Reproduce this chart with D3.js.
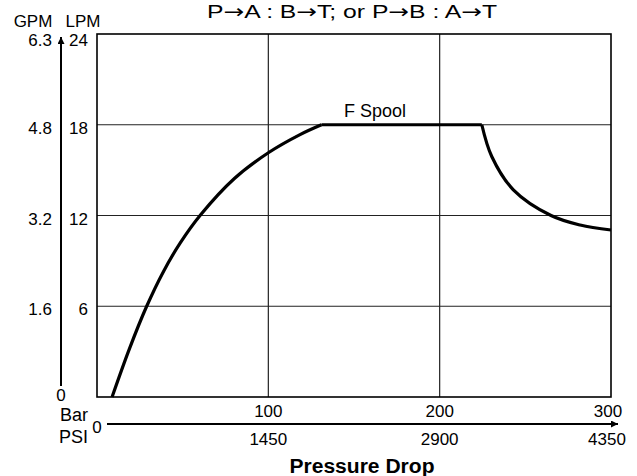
<!DOCTYPE html>
<html>
<head>
<meta charset="utf-8">
<script src="https://cdn.jsdelivr.net/npm/d3@7"></script>
<style>
  body { margin: 0; background: #fff; }
  text { font-family: "Liberation Sans", Arial, sans-serif; fill: #000; }
</style>
</head>
<body>
<div id="chart"></div>
<script>
// flow curve, rising part (bar, LPM)
const riseBar = [8.8, 18.8, 28.8, 38.9, 48.6, 60.5, 80.2, 100, 118.5, 131];
const riseLpm = [0, 3.15, 5.95, 8.32, 10.19, 12.05, 14.45, 16.15, 17.35, 18];
// falling part after the flat top
const fallBar = [224.6, 230.4, 243, 265, 282, 300];
const fallLpm = [18, 15.9, 13.7, 12, 11.37, 11.04];

const barTicks = [100, 200, 300];
const psiTicks = [0, 1450, 2900, 4350];
const psiAt = [0, 100, 200, 300];
const lpmTicks = [24, 18, 12, 6];
const gpmTicks = ['6.3', '4.8', '3.2', '1.6', '0'];
const gpmAt = [24, 18, 12, 6, 0];

const W = 637, H = 476;
const svg = d3.select('#chart').append('svg').attr('width', W).attr('height', H);

const x = d3.scaleLinear().domain([0, 300]).range([97, 611]);
const y = d3.scaleLinear().domain([0, 24]).range([397, 34]);

//arrow head
svg.append('defs').append('marker')
   .attr('id', 'arr').attr('viewBox', '0 0 10 10')
   .attr('refX', 10).attr('refY', 5)
   .attr('markerWidth', 8).attr('markerHeight', 7)
   .attr('markerUnits', 'userSpaceOnUse')
   .attr('orient', 'auto')
   .append('path').attr('d', 'M0,0L10,5L0,10Z').attr('fill', '#000');

//grid lines
svg.append('g').selectAll('line')
   .data([100, 200]).enter().append('line')
   .attr('x1', d => x(d)).attr('x2', d => x(d))
   .attr('y1', y(0)).attr('y2', y(24))
   .attr('stroke', '#222').attr('stroke-width', 1.2);

svg.append('g').selectAll('line')
   .data([6, 12, 18]).enter().append('line')
   .attr('x1', x(0)).attr('x2', x(300))
   .attr('y1', d => y(d)).attr('y2', d => y(d))
   .attr('stroke', '#222').attr('stroke-width', 1.2);

//plot frame
svg.append('rect')
   .attr('x', x(0)).attr('y', y(24))
   .attr('width', x(300) - x(0)).attr('height', y(0) - y(24))
   .attr('fill', 'none').attr('stroke', '#000').attr('stroke-width', 1.6);

//curve
const smooth = d3.line().x(d => x(d[0])).y(d => y(d[1])).curve(d3.curveCatmullRom.alpha(0.5));
const rise = riseBar.map((b, i) => [b, riseLpm[i]]);
const fall = fallBar.map((b, i) => [b, fallLpm[i]]);
const flat = [rise[rise.length - 1], fall[0]];

const curveG = svg.append('g').attr('fill', 'none').attr('stroke', '#000')
   .attr('stroke-width', 3.2).attr('stroke-linejoin', 'round');
curveG.append('path').attr('d', smooth(rise));
curveG.append('path').attr('d', d3.line().x(d => x(d[0])).y(d => y(d[1]))(flat));
curveG.append('path').attr('d', smooth(fall));

svg.append('text').attr('x', 375).attr('y', 117)
   .attr('text-anchor', 'middle').attr('font-size', 18).text('F Spool');

//left vertical arrow
svg.append('line')
   .attr('x1', 61).attr('x2', 61).attr('y1', 386).attr('y2', 37)
   .attr('stroke', '#000').attr('stroke-width', 2)
   .attr('marker-end', 'url(#arr)');

//LPM labels
svg.append('g').selectAll('text')
   .data(lpmTicks).enter().append('text')
   .attr('x', 88).attr('y', d => d === 24 ? 46 : y(d) + 9)
   .attr('text-anchor', 'end').attr('font-size', 17)
   .text(d => d);

//GPM labels
const last = gpmTicks.length - 1;
svg.append('g').selectAll('text')
   .data(gpmTicks).enter().append('text')
   .attr('x', (d, i) => i === last ? 61 : 52)
   .attr('y', (d, i) => i === 0 ? 46 : i === last ? 401 : y(gpmAt[i]) + 9)
   .attr('text-anchor', (d, i) => i === last ? 'middle' : 'end')
   .attr('font-size', 17)
   .text(d => d);

svg.append('text').attr('x', 33).attr('y', 27).attr('text-anchor', 'middle')
   .attr('font-size', 17).text('GPM');
svg.append('text').attr('x', 83).attr('y', 27).attr('text-anchor', 'middle')
   .attr('font-size', 17).text('LPM');

//bottom arrow
svg.append('line')
   .attr('x1', 107).attr('x2', 618).attr('y1', 424).attr('y2', 424)
   .attr('stroke', '#000').attr('stroke-width', 2)
   .attr('marker-end', 'url(#arr)');

svg.append('text').attr('x', 88).attr('y', 421).attr('text-anchor', 'end')
   .attr('font-size', 18).text('Bar');
svg.append('text').attr('x', 88).attr('y', 443).attr('text-anchor', 'end')
   .attr('font-size', 18).text('PSI');

//bar labels
svg.append('g').selectAll('text')
   .data(barTicks).enter().append('text')
   .attr('x', d => x(d) - (d === 300 ? 3 : 0)).attr('y', 417)
   .attr('text-anchor', 'middle').attr('font-size', 17)
   .text(d => d);

//psi labels
svg.append('g').selectAll('text')
   .data(psiTicks).enter().append('text')
   .attr('x', (d, i) => x(psiAt[i]) - (i === 3 ? 4 : 0))
   .attr('y', (d, i) => i === 0 ? 433 : 445)
   .attr('text-anchor', 'middle').attr('font-size', 17)
   .text(d => d);

svg.append('text').attr('x', 362).attr('y', 473)
   .attr('text-anchor', 'middle').attr('font-size', 20).attr('font-weight', 'bold')
   .attr('textLength', 145).attr('lengthAdjust', 'spacingAndGlyphs')
   .text('Pressure Drop');

//title, arrows from a font with wider arrow glyphs
const title = svg.append('text').attr('x', 352).attr('y', 18)
   .attr('text-anchor', 'middle').attr('font-size', 19)
   .attr('textLength', 290).attr('lengthAdjust', 'spacingAndGlyphs');
const parts = ['P', '\u2192', 'A : B', '\u2192', 'T; or P', '\u2192', 'B : A', '\u2192', 'T'];
parts.forEach(p => {
  const t = title.append('tspan').text(p);
  if (p === '\u2192') t.style('font-family', '"DejaVu Sans"');
});
</script>
</body>
</html>
